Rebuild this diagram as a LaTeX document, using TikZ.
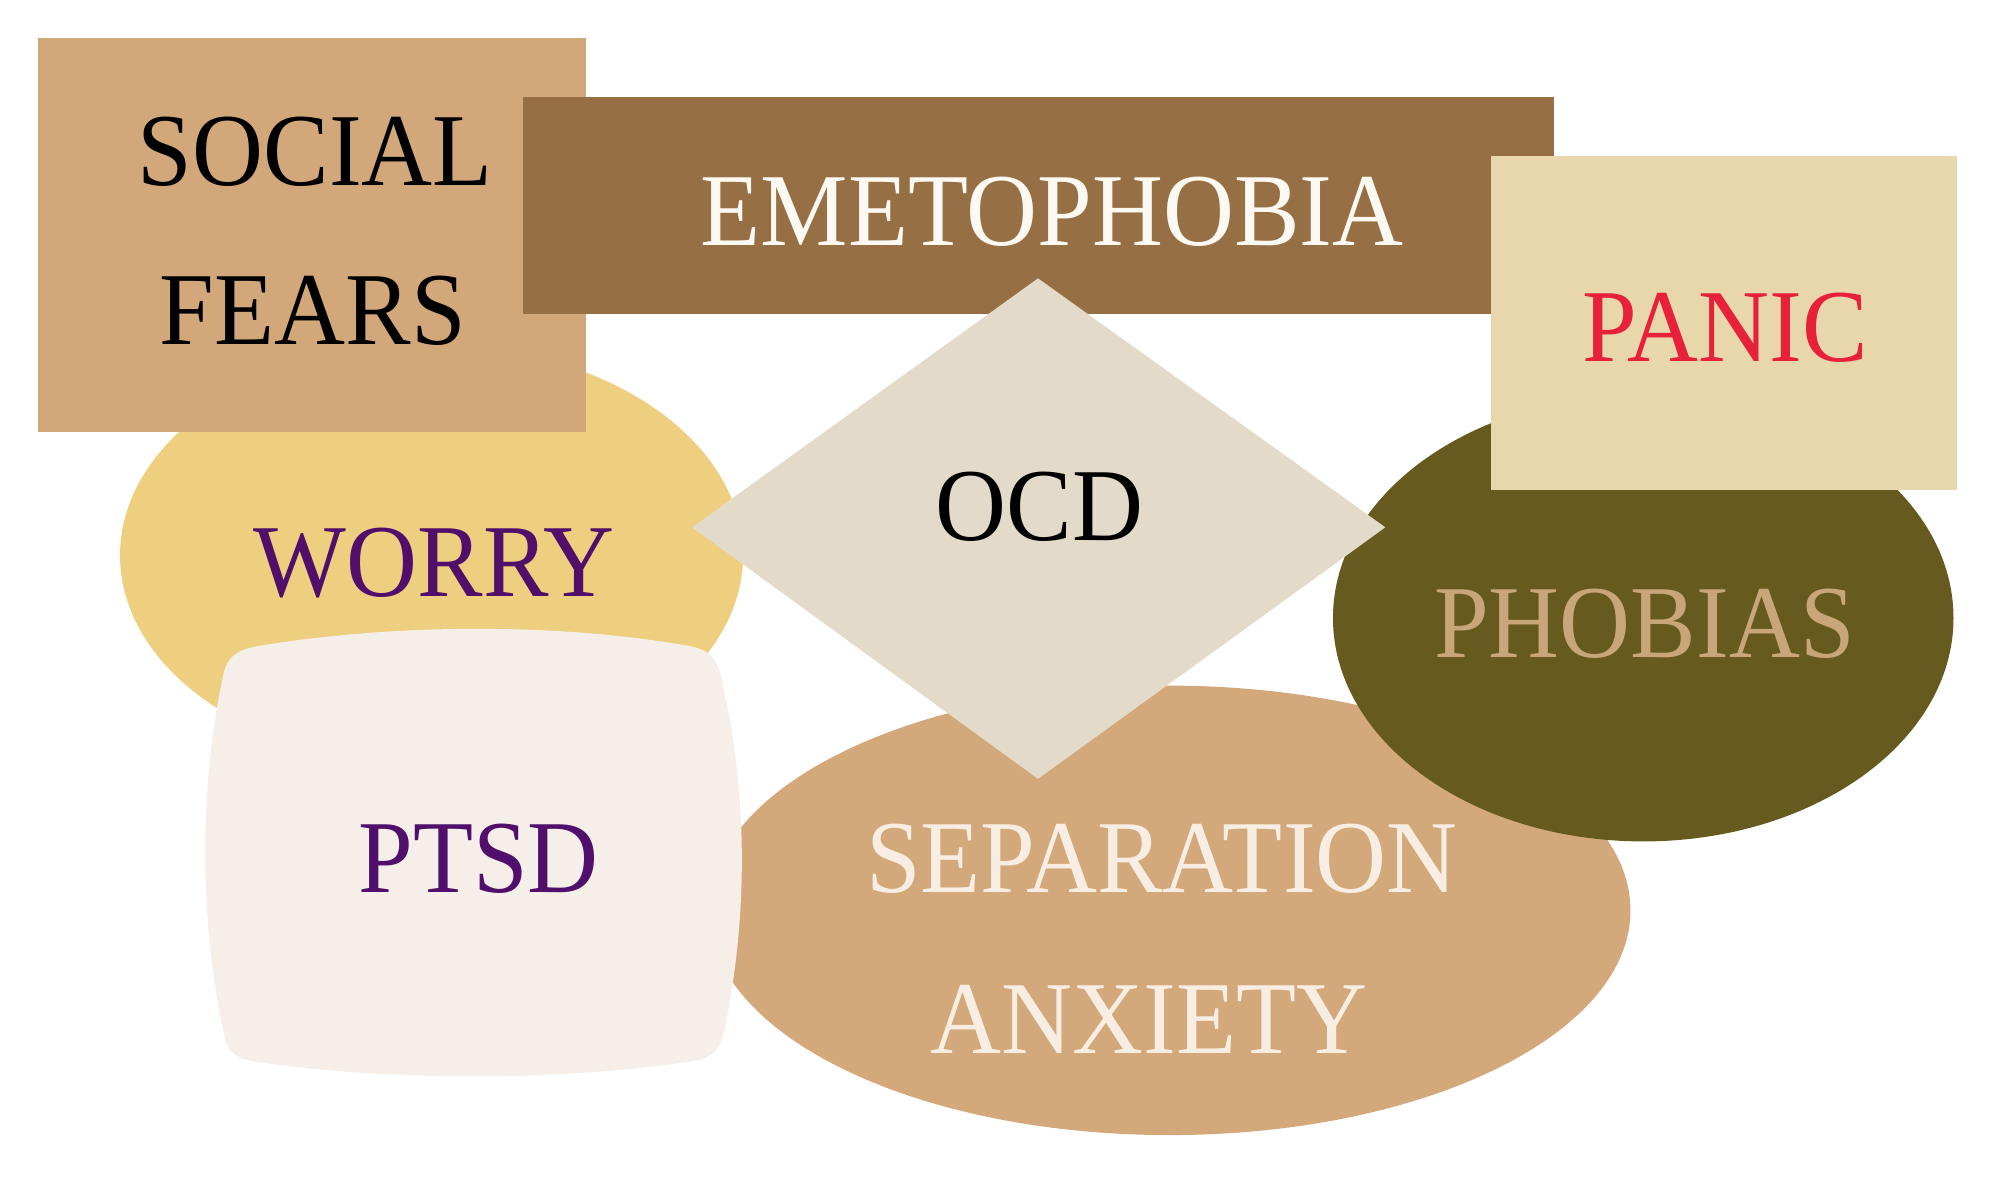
\documentclass[tikz,border=0pt]{standalone}
\usepackage{fontspec}
\newfontfamily\labfont{Liberation Serif}
\definecolor{socialc}{HTML}{D2A779}
\definecolor{emetc}{HTML}{966F45}
\definecolor{panicbox}{HTML}{E8D6AC}
\definecolor{panictxt}{HTML}{E8213A}
\definecolor{worryc}{HTML}{EECF7F}
\definecolor{purpletxt}{HTML}{4F0F6A}
\definecolor{ocdc}{HTML}{E3DACA}
\definecolor{phobiac}{HTML}{675A1F}
\definecolor{phobiatxt}{HTML}{C9A67A}
\definecolor{sepc}{HTML}{D3A87A}
\definecolor{septxt}{HTML}{F7EDE2}
\definecolor{ptsdc}{HTML}{F6EFE9}
\definecolor{emettxt}{HTML}{FCF8F2}
\tikzset{
  lab/.style={anchor=base, inner sep=0pt, xscale=0.95,
    font=\labfont\fontsize{81}{90}\selectfont}
}
\begin{document}
\begin{tikzpicture}[x=1pt,y=-1pt]
\fill[white] (0,0) rectangle (1568,926);
\useasboundingbox (0,0) rectangle (1568,926);
% worry ellipse
\fill[worryc] (338,435) ellipse [x radius=244, y radius=165];
% social fears rect
\fill[socialc] (30,30) rectangle (459,338);
% emetophobia rect
\fill[emetc] (410,76) rectangle (1217,246);
% separation ellipse
\fill[sepc] (916,713) ellipse [x radius=361, y radius=176];
% phobias ellipse
\fill[phobiac] (1287,484) ellipse [x radius=243, y radius=175];
% panic rect
\fill[panicbox] (1168,122) rectangle (1533,384);
% OCD diamond
\fill[ocdc] (813,218) -- (1085,413) -- (813,610) -- (542,413) -- cycle;
% PTSD shape
\fill[ptsdc] (202,506) .. controls (310,488) and (440,488) .. (540,506)
  .. controls (556,509) and (562,516) .. (565,532)
  .. controls (586,620) and (586,720) .. (567,808)
  .. controls (563,824) and (556,829) .. (543,831)
  .. controls (440,847) and (300,847) .. (197,831)
  .. controls (183,828) and (177,822) .. (175,808)
  .. controls (156,720) and (156,615) .. (175,528)
  .. controls (178,514) and (186,509) .. (202,506) -- cycle;
% labels
\node[lab, text=black] (social) at (247,145) {SOCIAL};
\node[lab, text=black] (fears) at (245,270) {FEARS};
\node[lab, text=emettxt] (emet) at (824,192) {EMETOPHOBIA};
\node[lab, text=panictxt] (panic) at (1351,283) {PANIC};
\node[lab, text=purpletxt] (worry) at (340,467) {WORRY};
\node[lab, text=black] (ocd) at (814,423) {OCD};
\node[lab, text=phobiatxt] (phobias) at (1288,515) {PHOBIAS};
\node[lab, text=septxt] (separation) at (910,699) {SEPARATION};
\node[lab, text=septxt] (anxiety) at (900,825) {ANXIETY};
\node[lab, text=purpletxt] (ptsd) at (375,699) {PTSD};
\end{tikzpicture}
\end{document}
